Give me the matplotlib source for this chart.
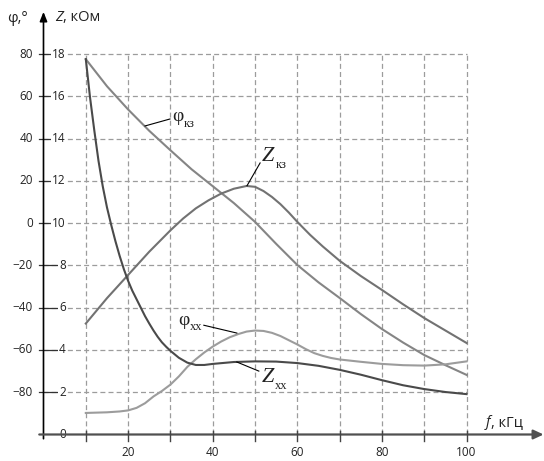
import numpy as np
import matplotlib.pyplot as plt

# ---------------------------------------------------
# Data
# ---------------------------------------------------

f_phi_kz = [10, 15, 20, 25, 30, 35, 40, 45, 50, 55, 60, 65, 70, 75, 80, 85, 90, 95, 100]
phi_kz = [77.6, 64.8, 53.8, 43.7, 34.5, 25.5, 17.5, 9.5, 0.6, -9.8, -19.8, -28.0,
          -35.4, -43.0, -50.1, -56.5, -62.4, -67.2, -71.8]

f_z_kz = [10, 15, 20, 25, 30, 33, 36, 39, 42, 45, 48, 50, 52, 54, 56, 58, 60, 63, 66,
          70, 75, 80, 85, 90, 95, 100]
z_kz = [5.25, 6.45, 7.55, 8.65, 9.66, 10.22, 10.7, 11.08, 11.4, 11.63, 11.76, 11.72,
        11.52, 11.24, 10.9, 10.5, 10.06, 9.45, 8.9, 8.22, 7.5, 6.84, 6.16, 5.51, 4.92, 4.33]

f_phi_xx = [10, 15, 18, 20, 22, 24, 26, 28, 30, 32, 34, 36, 38, 40, 42, 44, 46, 48, 50,
            52, 54, 56, 58, 60, 62, 64, 66, 68, 70, 75, 80, 85, 90, 95, 100]
phi_xx = [-89.8, -89.5, -89.1, -88.6, -87.4, -85.2, -82.0, -79.4, -76.4, -72.5, -68.0,
          -64.4, -61.2, -58.4, -56.0, -54.0, -52.5, -51.3, -50.8, -51.0, -51.9, -53.4,
          -55.4, -57.4, -59.6, -61.5, -62.8, -63.8, -64.5, -65.6, -66.6, -67.2, -67.4,
          -66.8, -65.4]

f_z_xx = [10, 11, 12, 13, 14, 15, 16, 17, 18, 19, 20, 21, 22, 23, 24, 25, 26, 27, 28, 29,
          30, 32, 34, 36, 38, 40, 45, 50, 55, 60, 65, 70, 75, 80, 85, 90, 95, 100]
z_xx = [17.76, 15.95, 14.4, 12.95, 11.75, 10.75, 9.92, 9.15, 8.45, 7.82, 7.27, 6.8, 6.4,
        6.0, 5.6, 5.25, 4.92, 4.62, 4.36, 4.15, 3.96, 3.63, 3.4, 3.29, 3.29, 3.34, 3.43,
        3.46, 3.45, 3.38, 3.25, 3.06, 2.83, 2.57, 2.33, 2.15, 2.01, 1.91]

z_ticks = [0, 2, 4, 6, 8, 10, 12, 14, 16, 18]
phi_ticks = [-80, -60, -40, -20, 0, 20, 40, 60, 80]
f_grid = [10, 20, 30, 40, 50, 60, 70, 80, 90, 100]
f_labels = [20, 40, 60, 80, 100]


def phi_to_z(phi):
    # phi axis: 80 deg <-> 18 kOhm, -80 deg <-> 2 kOhm
    return np.asarray(phi) / 10.0 + 10.0


# ---------------------------------------------------
# Figure
# ---------------------------------------------------

fig = plt.figure(figsize=(5.44, 4.61), dpi=100)
ax = fig.add_axes([0, 0, 1, 1])
ax.set_xlim(-10.28, 118.3)
ax.set_ylim(-1.254, 20.56)
ax.axis("off")

sans = "Open Sans"
serif = "Liberation Serif"
txt = "#222222"
grid_c = "#9c9c9c"

# grid
for f in f_grid:
    ax.plot([f, f], [0, 18], color=grid_c, lw=0.9, ls=(0, (4, 2.5)), zorder=1)
for z in z_ticks[1:]:
    ax.plot([0, 100], [z, z], color=grid_c, lw=0.9, ls=(0, (4, 2.5)), zorder=1)
    ax.plot([-1.0, 3.5], [z, z], color="#333333", lw=0.9, zorder=2)

# axes with arrows
ax.annotate("", xy=(0, 20.0), xytext=(0, -0.2),
            arrowprops=dict(arrowstyle="-|>,head_length=0.55,head_width=0.22",
                            color="black", lw=1.2, shrinkA=0, shrinkB=0,
                            mutation_scale=10), zorder=4)
ax.annotate("", xy=(118.2, 0), xytext=(-1.0, 0),
            arrowprops=dict(arrowstyle="-|>,head_length=0.6,head_width=0.28",
                            color="#505050", lw=1.6, shrinkA=0, shrinkB=0,
                            mutation_scale=10), zorder=4)
for f in f_grid:
    ax.plot([f, f], [-0.3, 0.18], color="#444444", lw=1.0, zorder=4)

# tick labels
for p in phi_ticks:
    ax.text(-2.48, phi_to_z(p), str(p).replace("-", "\u2212"), ha="right", va="center",
            fontsize=8.5, family=sans, color=txt)
for z in z_ticks:
    box = dict(facecolor="white", edgecolor="none", pad=0.6) if z > 0 else None
    ax.text(5.3, z, str(z), ha="right", va="center", fontsize=8.5, family=sans,
            color=txt, bbox=box, zorder=3)
for f in f_labels:
    ax.text(f, -0.83, str(f), ha="center", va="center", fontsize=8.5, family=sans,
            color=txt)

# curves
ax.plot(f_phi_kz, phi_to_z(phi_kz), color="#858585", lw=1.5, zorder=5)
ax.plot(f_z_kz, z_kz, color="#727272", lw=1.5, zorder=5)
ax.plot(f_phi_xx, phi_to_z(phi_xx), color="#9c9c9c", lw=1.5, zorder=5)
ax.plot(f_z_xx, z_xx, color="#4a4a4a", lw=1.5, zorder=6)


def chain(x, y, first, rest, size, family, italic_first):
    t = ax.text(x, y, first, fontsize=size, family=family, color=txt,
                style="italic" if italic_first else "normal", ha="left", va="baseline")
    ax.annotate(rest, xy=(1, 0), xycoords=t, xytext=(0, 0), textcoords="offset points",
                fontsize=size, family=family, color=txt, ha="left", va="bottom")


def curve_label(x, y, main, sub, italic, size, dx, dy):
    t = ax.text(x, y, main, fontsize=size, family=serif, color=txt,
                style="italic" if italic else "normal", ha="left", va="baseline", zorder=7)
    ax.annotate(sub, xy=(1, 0), xycoords=t, xytext=(dx, dy), textcoords="offset points",
                fontsize=9, family=serif, color=txt, ha="left", va="bottom", zorder=7)


# axis titles
ax.text(-8.6, 19.5, "\u03c6,\u00b0", fontsize=10.5, family=sans,
        color=txt, ha="left", va="baseline")
chain(2.7, 19.55, "Z", ", кОм", 10.5, sans, True)
chain(104.6, 0.39, "f", ", кГц", 10.5, sans, True)

# curve labels and leaders
curve_label(30.4, 14.85, "\u03c6", "кз", False, 14, 0.5, -3.5)
ax.plot([24.0, 29.9], [14.6, 14.93], color="black", lw=0.8, zorder=6)

curve_label(51.7, 12.95, "Z", "кз", True, 16, 0.5, -3.5)
ax.plot([48.1, 51.2], [11.77, 12.85], color="black", lw=0.8, zorder=6)

curve_label(31.8, 5.2, "\u03c6", "xx", False, 14, 0.5, -3.5)
ax.plot([37.9, 45.7], [5.17, 4.8], color="black", lw=0.8, zorder=6)

curve_label(51.7, 2.48, "Z", "xx", True, 16, 0.5, -3.5)
ax.plot([45.7, 50.9], [3.43, 3.0], color="black", lw=0.8, zorder=6)

plt.savefig("out.png", dpi=100)
